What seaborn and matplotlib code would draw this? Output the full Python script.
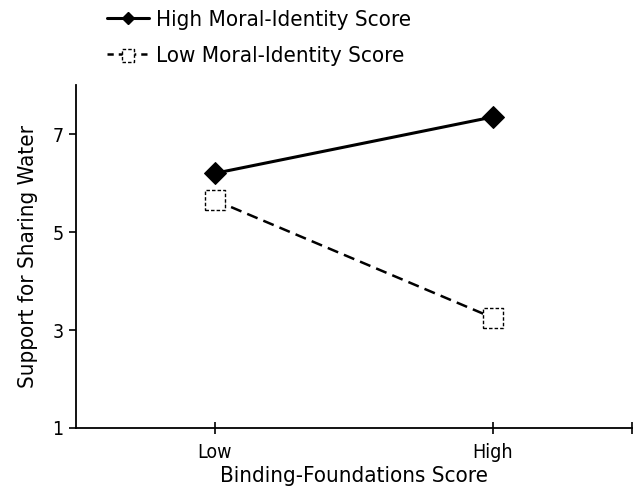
import matplotlib
matplotlib.use("Agg")
import matplotlib.pyplot as plt
import seaborn as sns
import pandas as pd
from matplotlib.lines import Line2D
from matplotlib.legend_handler import HandlerTuple

# Data
categories = ["Low", "High"]
x_positions = [1, 2]
high_moral = [6.2, 7.35]
low_moral = [5.65, 3.25]
series_names = ["High Moral-Identity Score", "Low Moral-Identity Score"]
y_ticks = [1, 3, 5, 7]

sns.set_theme(style="white")
plt.rcParams['font.family'] = ['DejaVu Sans']
plt.rcParams['font.stretch'] = 'condensed'
plt.rcParams['text.color'] = 'black'
plt.rcParams['axes.labelcolor'] = 'black'

df = pd.DataFrame({
    "x": x_positions * 2,
    "y": high_moral + low_moral,
    "group": [series_names[0]] * 2 + [series_names[1]] * 2,
})

fig = plt.figure(figsize=(6.35, 4.95), dpi=100)
ax = fig.add_axes([0.1197, 0.1354, 0.8753, 0.6926])

sns.lineplot(data=df[df.group == series_names[0]], x="x", y="y", color="black",
             lw=2.2, marker="D", markersize=11, markeredgecolor="black",
             markerfacecolor="black", ax=ax, legend=False, zorder=3)
sns.lineplot(data=df[df.group == series_names[1]], x="x", y="y", color="black",
             lw=1.8, ax=ax, legend=False, zorder=2)
ax.lines[-1].set_dashes([4.5, 2.5])
sns.scatterplot(data=df[df.group == series_names[1]], x="x", y="y", marker="s",
                s=200, facecolor="white", edgecolor="black", linewidth=1.0,
                linestyle=(0, (2.5, 1.5)), ax=ax, legend=False, zorder=4)
sq_coll = ax.collections[-1]

ax.set_xlim(0.5, 2.5)
ax.set_ylim(1, 8)
ax.set_xticks(x_positions + [2.5])
ax.set_xticklabels(categories + [""])
ax.set_yticks(y_ticks)
ax.set_yticklabels([str(t) for t in y_ticks])
ax.tick_params(axis="x", bottom=True, direction="inout", length=9, width=1.2,
               labelsize=14, pad=6, colors="black")
ax.tick_params(axis="y", left=True, direction="out", length=5, width=1.2,
               labelsize=14, pad=4, colors="black")
ax.set_xlabel("Binding-Foundations Score", fontsize=16, labelpad=3, color="black")
ax.set_ylabel("Support for Sharing Water", fontsize=16, labelpad=10, color="black")
for side in ["top", "right"]:
    ax.spines[side].set_visible(False)
for side in ["left", "bottom"]:
    ax.spines[side].set_color("black")
    ax.spines[side].set_linewidth(1.3)

h1 = Line2D([], [], color="black", lw=2.2, marker="D", markersize=10)
h2_line = Line2D([], [], color="black", lw=1.8, dashes=[2.5, 2])
h2 = (h2_line, sq_coll)
fig.legend([h1, h2], series_names, loc="upper left", bbox_to_anchor=(0.137, 1.02),
           frameon=False, fontsize=16, handlelength=1.9, handletextpad=0.3,
           labelspacing=0.7, handler_map={tuple: HandlerTuple(ndivide=1, pad=0)},
           scatterpoints=1, markerscale=0.65)

fig.savefig("out.png", dpi=100, facecolor="white")
